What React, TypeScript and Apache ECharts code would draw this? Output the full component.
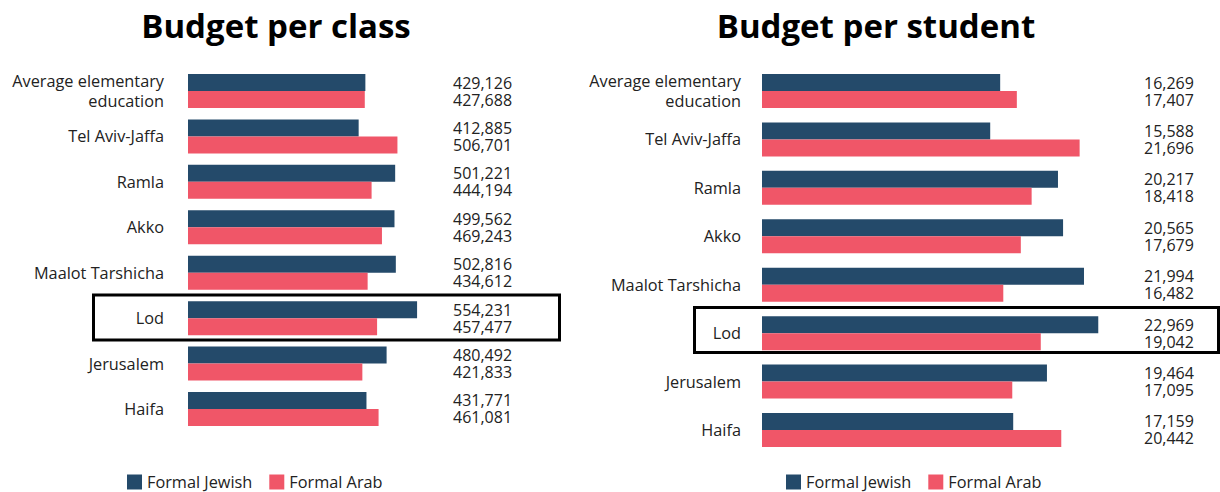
import React, { useEffect, useRef } from "react";
import * as echarts from "echarts";

const categories = [
  "Average elementary\neducation",
  "Tel Aviv-Jaffa",
  "Ramla",
  "Akko",
  "Maalot Tarshicha",
  "Lod",
  "Jerusalem",
  "Haifa",
];
const classJewish = [429126, 412885, 501221, 499562, 502816, 554231, 480492, 431771];
const classArab = [427688, 506701, 444194, 469243, 434612, 457477, 421833, 461081];
const studentJewish = [16269, 15588, 20217, 20565, 21994, 22969, 19464, 17159];
const studentArab = [17407, 21696, 18418, 17679, 16482, 19042, 17095, 20442];
const seriesNames = ["Formal Jewish", "Formal Arab"];
const titles = ["Budget per class", "Budget per student"];

const BLUE = "#244a6a";
const RED = "#f05668";
const FONT = "'Open Sans', 'Noto Sans', sans-serif";
const fmt = (v: number) => v.toLocaleString("en-US");

export default function App() {
  const ref = useRef<HTMLDivElement>(null);
  useEffect(() => {
    if (!ref.current) return;
    const chart = echarts.init(ref.current, undefined, { renderer: "svg" });
    const catAxis = (gridIndex: number, margin: number) => ({
      type: "category",
      gridIndex,
      data: categories,
      inverse: true,
      axisLine: { show: false },
      axisTick: { show: false },
      axisLabel: {
        margin,
        fontSize: 16.3,
        fontFamily: FONT,
        color: "#222",
        lineHeight: 20,
        align: "right",
      },
    });
    const valAxisLabels = (gridIndex: number, a: number[], b: number[], margin: number) => ({
      type: "category",
      gridIndex,
      position: "right",
      data: categories,
      inverse: true,
      axisLine: { show: false },
      axisTick: { show: false },
      axisLabel: {
        margin,
        fontSize: 16,
        fontFamily: FONT,
        color: "#222",
        lineHeight: 17,
        align: "left",
        formatter: (_: string, i: number) => `${fmt(a[i])}\n${fmt(b[i])}`,
      },
    });
    const bar = (name: string, data: number[], color: string, idx: number) => ({
      type: "bar",
      name,
      data,
      xAxisIndex: idx,
      yAxisIndex: idx * 2,
      barWidth: 17,
      barGap: "0%",
      itemStyle: { color },
    });
    const legend = (left: number) => ({
      data: seriesNames,
      left,
      top: 469,
      itemWidth: 15,
      itemHeight: 15,
      itemGap: 17,
      icon: "rect",
      textStyle: { fontSize: 16.3, fontFamily: FONT, color: "#222" },
    });
    chart.setOption({
      animation: false,
      title: [
        {
          text: titles[0],
          left: 271,
          top: 4,
          textAlign: "center",
          textStyle: { fontSize: 33, fontWeight: "bold", fontFamily: FONT, color: "#000" },
        },
        {
          text: titles[1],
          left: 871,
          top: 4,
          textAlign: "center",
          textStyle: { fontSize: 33, fontWeight: "bold", fontFamily: FONT, color: "#000" },
        },
      ],
      legend: [legend(122), legend(781)],
      grid: [
        { left: 188, top: 68.3, width: 248, height: 363.4 },
        { left: 762, top: 66.8, width: 366, height: 387.4 },
      ],
      xAxis: [
        { type: "value", gridIndex: 0, min: 0, max: 600000, show: false },
        { type: "value", gridIndex: 1, min: 0, max: 25000, show: false },
      ],
      yAxis: [
        catAxis(0, 24),
        valAxisLabels(0, classJewish, classArab, 17),
        catAxis(1, 21),
        valAxisLabels(1, studentJewish, studentArab, 16),
      ],
      series: [
        bar(seriesNames[0], classJewish, BLUE, 0),
        bar(seriesNames[1], classArab, RED, 0),
        bar(seriesNames[0], studentJewish, BLUE, 1),
        bar(seriesNames[1], studentArab, RED, 1),
      ],
      graphic: [
        {
          type: "rect",
          shape: { x: 93.5, y: 295, width: 466, height: 45 },
          style: { fill: "none", stroke: "#000", lineWidth: 3 },
          z: 10,
        },
        {
          type: "rect",
          shape: { x: 694.5, y: 307.5, width: 524, height: 45 },
          style: { fill: "none", stroke: "#000", lineWidth: 3 },
          z: 10,
        },
      ],
    });
    return () => chart.dispose();
  }, []);
  return (
    <div
      ref={ref}
      style={{ position: "fixed", left: 0, top: 0, width: 1220, height: 492, background: "#fff" }}
    />
  );
}
